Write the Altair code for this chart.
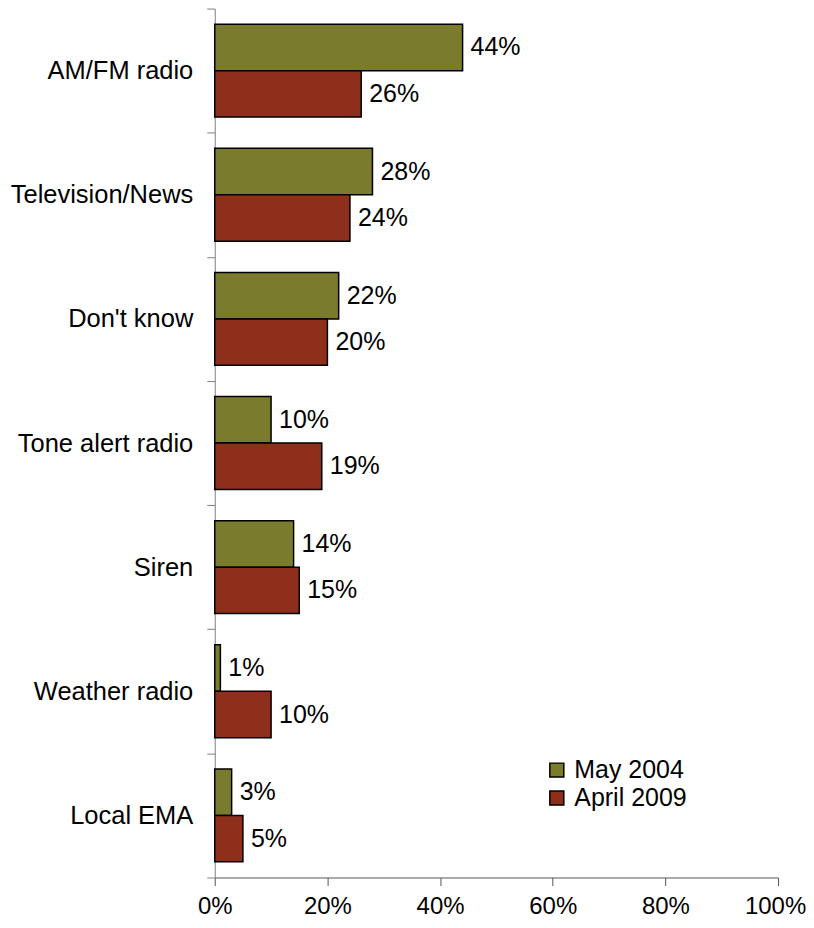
import altair as alt
import pandas as pd

categories = ["AM/FM radio", "Television/News", "Don't know", "Tone alert radio",
              "Siren", "Weather radio", "Local EMA"]
may_2004 = [44, 28, 22, 10, 14, 1, 3]
april_2009 = [26, 24, 20, 19, 15, 10, 5]
series = ["May 2004", "April 2009"]
colors = ["#7B7B2E", "#8E2F1C"]

rows = []
for c, a, b in zip(categories, may_2004, april_2009):
    rows.append({"category": c, "series": series[0], "value": a, "label": f"{a}%"})
    rows.append({"category": c, "series": series[1], "value": b, "label": f"{b}%"})
df = pd.DataFrame(rows)

FONT = "Liberation Sans"
FS = 25

y = alt.Y("category:N", sort=categories, title=None,
          scale=alt.Scale(paddingInner=0, paddingOuter=0),
          axis=alt.Axis(tickBand="extent", labelFontSize=25.5, labelFont=FONT,
                        labelColor="black", labelPadding=14, tickSize=8,
                        tickColor="#808080", domainColor="#808080", grid=False,
                        labelLimit=300))
yoff = alt.YOffset("series:N", sort=series,
                   scale=alt.Scale(paddingInner=0, paddingOuter=0.336))
x = alt.X("value:Q", title=None,
          scale=alt.Scale(domain=[0, 100], nice=False),
          axis=alt.Axis(values=[0, 20, 40, 60, 80, 100], labelExpr="datum.value + '%'",
                        labelFontSize=24, labelFont=FONT, labelColor="black",
                        labelFlush=False, labelOverlap=False,
                        labelOffset={"condition": {"test": "datum.value == 100", "value": -3},
                                     "value": 0},
                        tickSize=8, tickColor="#555", domainColor="#555",
                        labelPadding=9, grid=False))

bars = alt.Chart(df).mark_bar(stroke="black", strokeWidth=1.5).encode(
    x=x, y=y, yOffset=yoff,
    color=alt.Color("series:N", sort=series,
                    scale=alt.Scale(domain=series, range=colors),
                    legend=alt.Legend(title=None, orient="none", legendX=330, legendY=750,
                                      symbolType="square", symbolSize=196,
                                      symbolStrokeColor="black", symbolStrokeWidth=1.5,
                                      labelFontSize=FS, labelFont=FONT, labelColor="black",
                                      rowPadding=2, labelOffset=5)),
)

labels = alt.Chart(df).mark_text(align="left", baseline="middle", dx=8,
                                 fontSize=FS, font=FONT, color="black").encode(
    x="value:Q", y=alt.Y("category:N", sort=categories), yOffset=yoff,
    text="label:N",
)

chart = (bars + labels).properties(
    width=564, height=870,
    autosize=alt.AutoSizeParams(type="none"),
    padding={"left": 207, "top": 0, "right": 28, "bottom": 42},
).configure_view(stroke=None)

chart.save("out.html", embed_options={"renderer": "svg", "actions": False})
